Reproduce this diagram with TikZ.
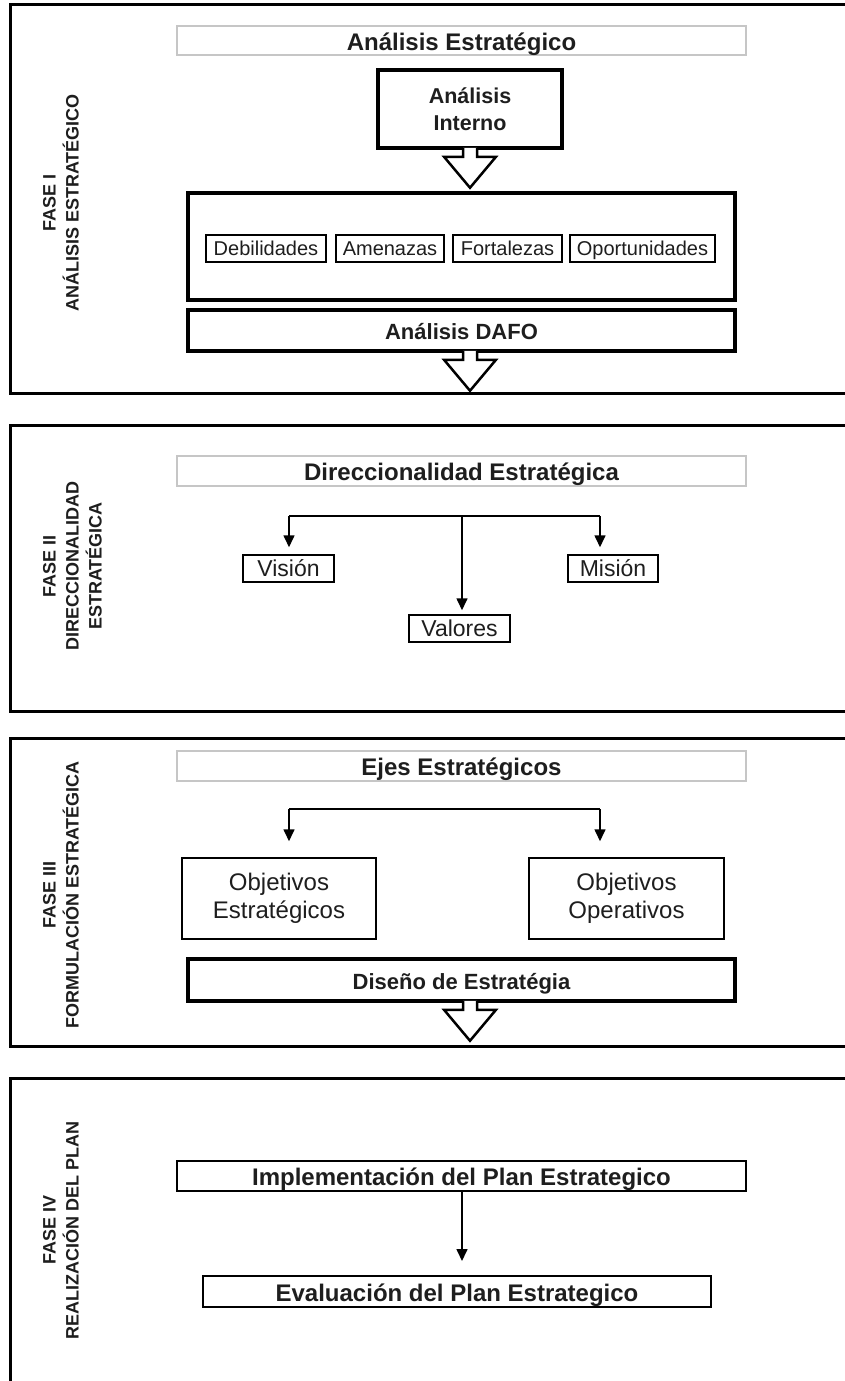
\documentclass[tikz,border=0pt]{standalone}
\usepackage{fontspec}
\setmainfont{Liberation Sans}
\usetikzlibrary{arrows.meta,calc}
\definecolor{txt}{HTML}{1E1E1E}
\definecolor{headgray}{HTML}{C6C6C6}
\tikzset{
  frame/.style={draw=black, line width=3pt},
  headbox/.style={draw=headgray, line width=2pt, fill=white, inner sep=0pt,
    font=\fontsize{24}{28}\selectfont\bfseries, text=txt,
    text height=24pt, text depth=4.8pt},
  thickbox/.style={draw=black, line width=3.5pt, fill=white, inner sep=0pt,
    font=\fontsize{22}{27}\selectfont\bfseries, text=txt, align=center},
  thickone/.style={thickbox, text height=22.5pt, text depth=4.4pt},
  smallbox/.style={draw=black, line width=1.5pt, inner sep=0pt,
    font=\fontsize{20}{24}\selectfont, text=txt,
    text height=18.3pt, text depth=4pt},
  itembox/.style={draw=black, line width=1.5pt, inner sep=0pt,
    font=\fontsize{23}{27}\selectfont, text=txt,
    text height=21.1pt, text depth=4.6pt},
  objbox/.style={draw=black, line width=1.5pt, inner sep=0pt,
    font=\fontsize{24}{28}\selectfont, text=txt, align=center},
  planbox/.style={draw=black, line width=2pt, inner sep=0pt,
    font=\fontsize{24}{28}\selectfont\bfseries, text=txt,
    text height=24pt, text depth=4.8pt},
  phaselabel/.style={rotate=90, align=center, inner sep=0pt,
    font=\fontsize{18}{23}\selectfont\bfseries, text=txt},
  conn/.style={draw=black, line width=1.6pt},
  connarrow/.style={draw=black, line width=1.6pt, -{Triangle[length=12pt,width=11pt]}},
  hollow/.style={draw=black, fill=white, line width=2.5pt, line join=miter}
}
\newcommand\hollowdown[1]{%
  \filldraw[hollow] ($(#1)+(-7,-2)$) -- ++(0,9) -- ++(-19,0) -- ++(26,31)
    -- ++(26,-31) -- ++(-19,0) -- ++(0,-9);}
\begin{document}
\begin{tikzpicture}[x=1pt,y=-1pt]
\useasboundingbox (0,0) rectangle (845,1381);
\clip (0,0) rectangle (845,1381);
\fill[white] (0,0) rectangle (845,1381);

% ---------- Panel frames
\draw[frame] (10,5) rectangle (880,393);
\draw[frame] (10,425) rectangle (880,711);
\draw[frame] (10,738) rectangle (880,1046);
\draw[frame] (10,1078) rectangle (880,1420);

% ---------- Phase labels
\node[phaselabel] (lab1) at (61,203) {FASE I\\ANÁLISIS ESTRATÉGICO};
\node[phaselabel] (lab2) at (72.5,566) {FASE II\\DIRECCIONALIDAD\\ESTRATÉGICA};
\node[phaselabel] (lab3) at (61,895) {FASE III\\FORMULACIÓN ESTRATÉGICA};
\node[phaselabel] (lab4) at (61,1230) {FASE IV\\REALIZACIÓN DEL PLAN};

% ---------- Panel 1
\node[headbox, minimum width=569pt, minimum height=29pt] (head1) at (461.5,40.5) {Análisis Estratégico};
\node[thickbox, minimum width=184pt, minimum height=78pt, font=\fontsize{21.5}{27}\selectfont\bfseries] (intern) at (470,109) {Análisis\\Interno};
\node[thickbox, minimum width=547pt, minimum height=107pt] (big) at (461.5,246.5) {};
\node[smallbox, minimum width=120pt, minimum height=27pt] (deb) at (266,248.5) {Debilidades};
\node[smallbox, minimum width=108pt, minimum height=27pt] (ame) at (390,248.5) {Amenazas};
\node[smallbox, minimum width=109pt, minimum height=27pt] (fort) at (507.5,248.5) {Fortalezas};
\node[smallbox, minimum width=145pt, minimum height=27pt] (opo) at (642.5,248.5) {Oportunidades};
\node[thickone, minimum width=547pt, minimum height=41pt] (dafo) at (461.5,330.5) {Análisis DAFO};
\coordinate (a1) at (intern.south);
\coordinate (a2) at (dafo.south -| intern.south);
\hollowdown{a1}
\hollowdown{a2}

% ---------- Panel 2
\node[headbox, minimum width=569pt, minimum height=30pt] (head2) at (461.5,471) {Direccionalidad Estratégica};
\node[itembox, minimum width=91pt, minimum height=27pt] (vis) at (288.5,568.5) {Visión};
\node[itembox, minimum width=90pt, minimum height=27pt] (mis) at (613,568.5) {Misión};
\node[itembox, minimum width=101pt, minimum height=27pt] (val) at (459.5,628.5) {Valores};
\coordinate (h2l) at (289,516);
\coordinate (h2c) at (462,516);
\coordinate (h2r) at (600,516);
\draw[conn] (h2l) -- (h2r);
\draw[connarrow, shorten >=7pt] (h2l) -- (h2l |- vis.north);
\draw[connarrow, shorten >=7pt] (h2r) -- (h2r |- mis.north);
\draw[connarrow, shorten >=4pt] (h2c) -- (h2c |- val.north);

% ---------- Panel 3
\node[headbox, minimum width=569pt, minimum height=30pt] (head3) at (461.5,766) {Ejes Estratégicos};
\node[objbox, minimum width=194pt, minimum height=81pt] (oe) at (279,898.5) {Objetivos\\Estratégicos};
\node[objbox, minimum width=195pt, minimum height=81pt] (oo) at (626.5,898.5) {Objetivos\\Operativos};
\node[thickone, minimum width=547pt, minimum height=42pt] (dis) at (461.5,980) {Diseño de Estratégia};
\coordinate (h3l) at (289,809);
\coordinate (h3r) at (600,809);
\draw[conn] (h3l) -- (h3r);
\draw[connarrow, shorten >=16pt] (h3l) -- (h3l |- oe.north);
\draw[connarrow, shorten >=16pt] (h3r) -- (h3r |- oo.north);
\coordinate (a3) at (dis.south -| intern.south);
\hollowdown{a3}

% ---------- Panel 4
\node[planbox, minimum width=569pt, minimum height=30pt] (impl) at (461.5,1176) {Implementación del Plan Estrategico};
\node[planbox, minimum width=508pt, minimum height=31pt] (eval) at (457,1291.5) {Evaluación del Plan Estrategico};
\coordinate (v4) at (impl.south -| h2c);
\draw[connarrow, shorten >=14pt] (v4) -- (v4 |- eval.north);
\end{tikzpicture}
\end{document}
